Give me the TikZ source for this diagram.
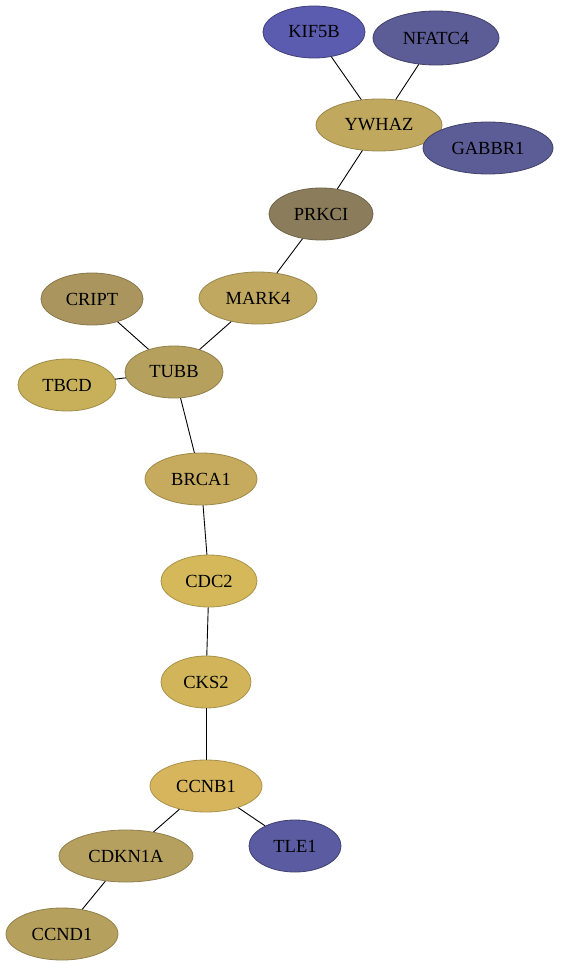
\documentclass[tikz,border=0pt]{standalone}
\usepackage{fontspec}
\setmainfont{Liberation Serif}
\usetikzlibrary{shapes.geometric}
\definecolor{blueA}{HTML}{5B5BB0}
\definecolor{blueB}{HTML}{5C5C96}
\definecolor{blueC}{HTML}{5B5BA2}
\definecolor{goldYwhaz}{HTML}{C0A85E}
\definecolor{goldPrkci}{HTML}{8B7D5B}
\definecolor{goldMark}{HTML}{C0A860}
\definecolor{goldCript}{HTML}{AA955E}
\definecolor{goldTubb}{HTML}{B5A05E}
\definecolor{goldTbcd}{HTML}{C8B05A}
\definecolor{goldBrca}{HTML}{C6AB5E}
\definecolor{goldCdc}{HTML}{D4B85A}
\definecolor{goldCks}{HTML}{D2B55A}
\definecolor{goldCcnb}{HTML}{D6B55C}
\definecolor{goldCdkn}{HTML}{B5A060}

\begin{document}
\begin{tikzpicture}[x=1pt, y=1pt, font=\fontsize{18.5}{21}\selectfont,
  gene/.style={ellipse, draw, line width=0.8pt, inner sep=0pt, minimum height=52pt},
  gold/.style={gene, draw=#1!80!black, fill=#1},
  blue/.style={gene, draw=#1!70!black, fill=#1},
  link/.style={draw, line width=0.9pt}]
  \useasboundingbox (0,0) rectangle (560,-968);
  % upper part
  \node[blue=blueA, minimum width=102pt] (kif5b) at (314,-32) {KIF5B};
  \node[blue=blueB, minimum width=126pt, minimum height=54pt] (nfatc4) at (436,-38) {NFATC4};
  \node[gold=goldYwhaz, minimum width=126pt] (ywhaz) at (379,-125) {YWHAZ};
  \node[blue=blueB, minimum width=130pt] (gabbr1) at (488,-148) {GABBR1};
  \node[gold=goldPrkci, minimum width=104pt] (prkci) at (321,-214) {PRKCI};
  \node[gold=goldMark, minimum width=118pt] (mark4) at (258,-298) {MARK4};
  \node[gold=goldCript, minimum width=102pt] (cript) at (92,-299) {CRIPT};
  \node[gold=goldTubb, minimum width=98pt] (tubb) at (174,-372) {TUBB};
  \node[gold=goldTbcd, minimum width=98pt] (tbcd) at (67,-385) {TBCD};
  % lower part
  \node[gold=goldBrca, minimum width=112pt] (brca1) at (201,-479) {BRCA1};
  \node[gold=goldCdc, minimum width=96pt] (cdc2) at (209,-581) {CDC2};
  \node[gold=goldCks, minimum width=90pt] (cks2) at (206,-682) {CKS2};
  \node[gold=goldCcnb, minimum width=112pt] (ccnb1) at (206,-786) {CCNB1};
  \node[blue=blueC, minimum width=92pt] (tle1) at (295,-846) {TLE1};
  \node[gold=goldCdkn, minimum width=134pt] (cdkn1a) at (126,-856) {CDKN1A};
  \node[gold=goldTubb, minimum width=112pt] (ccnd1) at (62,-934) {CCND1};

  \draw[link] (kif5b) -- (ywhaz);
  \draw[link] (nfatc4) -- (ywhaz);
  \draw[link] (ywhaz) -- (prkci);
  \draw[link] (prkci) -- (mark4);
  \draw[link] (mark4) -- (tubb);
  \draw[link] (cript) -- (tubb);
  \draw[link] (tbcd) -- (tubb);
  \draw[link] (tubb) -- (brca1);
  \draw[link] (brca1) -- (cdc2);
  \draw[link] (cdc2) -- (cks2);
  \draw[link] (cks2) -- (ccnb1);
  \draw[link] (ccnb1) -- (cdkn1a);
  \draw[link] (ccnb1) -- (tle1);
  \draw[link] (cdkn1a) -- (ccnd1);
\end{tikzpicture}
\end{document}
